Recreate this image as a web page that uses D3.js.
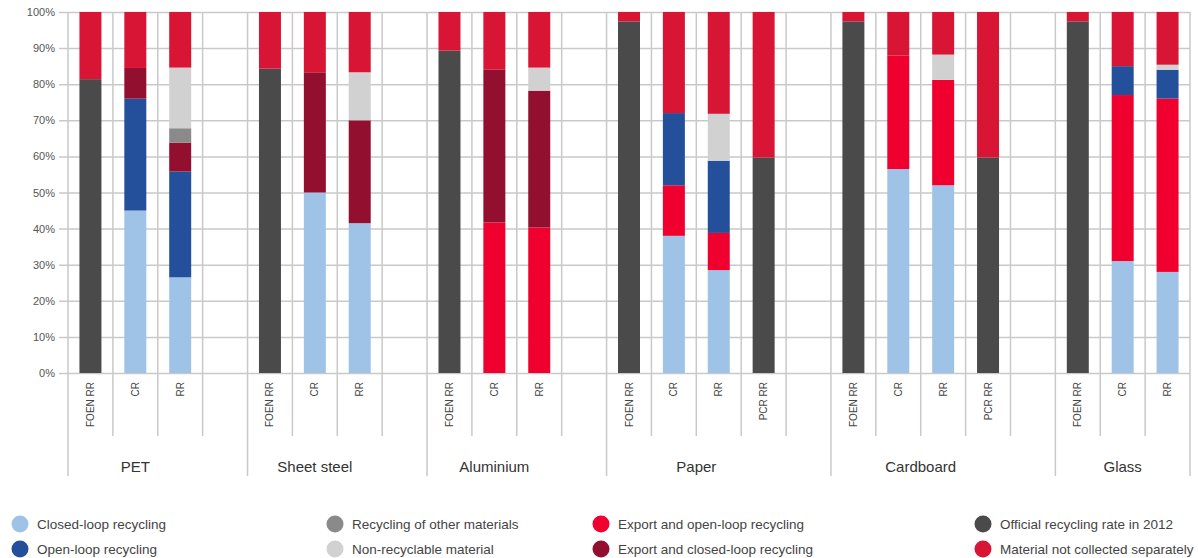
<!DOCTYPE html>
<html>
<head>
<meta charset="utf-8">
<script src="https://cdn.jsdelivr.net/npm/d3@7"></script>
<style>
  html, body { margin: 0; padding: 0; background: #fff; }
  svg { display: block; font-family: "Liberation Sans", Arial, Helvetica, sans-serif; }
</style>
</head>
<body>
<svg id="chart" width="1198" height="558"></svg>
<script>
// ---------- DATA ----------
const groups = ["PET", "Sheet steel", "Aluminium", "Paper", "Cardboard", "Glass"];
const groupBars = [
  ["FOEN RR", "CR", "RR"],
  ["FOEN RR", "CR", "RR"],
  ["FOEN RR", "CR", "RR"],
  ["FOEN RR", "CR", "RR", "PCR RR"],
  ["FOEN RR", "CR", "RR", "PCR RR"],
  ["FOEN RR", "CR", "RR"]
];
const yTicks = [0, 10, 20, 30, 40, 50, 60, 70, 80, 90, 100];

// series values, one per bar (bar order follows groupBars)
const closedLoop       = [0, 45, 26.5,   0, 50, 41.5,   0, 0, 0,        0, 38, 28.5, 0,    0, 56.5, 52, 0,    0, 31, 28];
const exportOpenLoop   = [0, 0, 0,       0, 0, 0,       0, 41.7, 40.3,  0, 14, 10.3, 0,    0, 31.4, 29.2, 0,  0, 46, 48];
const openLoop         = [0, 31, 29.3,   0, 0, 0,       0, 0, 0,        0, 20, 20, 0,      0, 0, 0, 0,        0, 8, 8];
const exportClosedLoop = [0, 8.5, 8,     0, 33.3, 28.5, 0, 42.3, 37.9,  0, 0, 0, 0,        0, 0, 0, 0,        0, 0, 0];
const otherMaterials   = [0, 0, 4,       0, 0, 0,       0, 0, 0,        0, 0, 0, 0,        0, 0, 0, 0,        0, 0, 0];
const nonRecyclable    = [0, 0, 16.8,    0, 0, 13.3,    0, 0, 6.4,      0, 0, 13, 0,       0, 0, 7, 0,        0, 0, 1.4];
const officialRate     = [81.4, 0, 0,    84.3, 0, 0,    89.3, 0, 0,     97.4, 0, 0, 59.7,  97.4, 0, 0, 59.7,  97.4, 0, 0];
const notCollected     = [18.6, 15.5, 15.4, 15.7, 16.7, 16.7, 10.7, 16, 15.4, 2.6, 28, 28.2, 40.3, 2.6, 12.1, 11.8, 40.3, 2.6, 15, 14.6];

const seriesNames = [
  "Closed-loop recycling", "Export and open-loop recycling", "Open-loop recycling",
  "Export and closed-loop recycling", "Recycling of other materials", "Non-recyclable material",
  "Official recycling rate in 2012", "Material not collected separately"
];
const seriesValues = [closedLoop, exportOpenLoop, openLoop, exportClosedLoop, otherMaterials, nonRecyclable, officialRate, notCollected];
const seriesColors = ["#9fc3e7", "#f0002e", "#244f9a", "#930f2f", "#8a8a8a", "#d1d1d1", "#4a4a4a", "#d81535"];

const legendOrder = [
  ["Closed-loop recycling", "Open-loop recycling"],
  ["Recycling of other materials", "Non-recyclable material"],
  ["Export and open-loop recycling", "Export and closed-loop recycling"],
  ["Official recycling rate in 2012", "Material not collected separately"]
];

// ---------- LAYOUT ----------
const svg = d3.select("#chart");
const plotLeft = 68, plotRight = 1190, yTop = 12, yBottom = 373;
const gridLeft = 59;

// slots: bars of each group plus one spacer slot between groups
const slots = [];
const bars = [];
const groupInfo = [];
groups.forEach((g, gi) => {
  const start = slots.length;
  groupBars[gi].forEach((lab) => {
    const id = g + "|" + lab;
    slots.push(id);
    bars.push({ id, group: g, label: lab });
  });
  const endBars = slots.length;
  if (gi < groups.length - 1) slots.push(g + "|gap");
  groupInfo.push({ name: g, start, endBars, end: slots.length });
});

const x = d3.scaleBand().domain(slots).range([plotLeft, plotRight]).padding(0);
const step = x.step();
const barW = step * 0.49;
const y = d3.scaleLinear().domain([0, 100]).range([yBottom, yTop]);

// stacked data
const rows = bars.map((b, i) => {
  const r = { id: b.id };
  seriesNames.forEach((s, si) => { r[s] = seriesValues[si][i]; });
  return r;
});
const stack = d3.stack().keys(seriesNames)(rows);

const gridColor = "#c9c9c9";

// horizontal gridlines + y labels
const yAxis = d3.axisLeft(y)
  .tickValues(yTicks)
  .tickFormat(d => d + "%")
  .tickSizeInner(-(plotRight - gridLeft))
  .tickSizeOuter(0)
  .tickPadding(4);
const gy = svg.append("g").attr("transform", `translate(${gridLeft},0)`).call(yAxis);
gy.select(".domain").remove();
gy.selectAll(".tick line").attr("stroke", gridColor).attr("stroke-width", 1.5);
gy.selectAll(".tick text")
  .attr("fill", "#555")
  .style("font-size", "11px")
  .style("font-family", "'Liberation Sans', Arial, sans-serif");

// vertical slot lines
const boundaries = d3.range(slots.length + 1);
const majorIdx = new Set(groupInfo.map(g => g.start).concat([slots.length]));
svg.append("g").selectAll("line").data(boundaries).join("line")
  .attr("x1", i => plotLeft + i * step)
  .attr("x2", i => plotLeft + i * step)
  .attr("y1", yTop)
  .attr("y2", i => majorIdx.has(i) ? 476 : 436)
  .attr("stroke", gridColor)
  .attr("stroke-width", 1.5);

// bars
const gBars = svg.append("g");
stack.forEach((layer, li) => {
  gBars.append("g").attr("fill", seriesColors[li])
    .selectAll("rect").data(layer.filter(d => d[1] - d[0] > 0)).join("rect")
    .attr("x", d => x(d.data.id) + (step - barW) / 2)
    .attr("width", barW)
    .attr("y", d => y(d[1]))
    .attr("height", d => y(d[0]) - y(d[1]));
});

// sub labels (rotated)
svg.append("g").selectAll("text").data(bars).join("text")
  .attr("transform", d => `translate(${x(d.id) + step / 2},382) rotate(-90)`)
  .attr("text-anchor", "end")
  .attr("dy", "0.35em")
  .attr("fill", "#444")
  .style("font-size", "10px")
  .text(d => d.label);

// group labels
svg.append("g").selectAll("text").data(groupInfo).join("text")
  .attr("x", d => plotLeft + (d.start + d.endBars) / 2 * step)
  .attr("y", 472)
  .attr("text-anchor", "middle")
  .attr("fill", "#333")
  .style("font-size", "15px")
  .text(d => d.name);

// legend
const colX = [20, 335, 601, 983];
const rowY = [524, 549];
const lg = svg.append("g");
legendOrder.forEach((col, ci) => {
  col.forEach((name, ri) => {
    const si = seriesNames.indexOf(name);
    lg.append("circle")
      .attr("cx", colX[ci]).attr("cy", rowY[ri]).attr("r", 8.5)
      .attr("fill", seriesColors[si]);
    lg.append("text")
      .attr("x", colX[ci] + 17).attr("y", rowY[ri])
      .attr("dy", "0.35em")
      .attr("fill", "#444")
      .style("font-size", "13.5px")
      .text(name);
  });
});
</script>
</body>
</html>
